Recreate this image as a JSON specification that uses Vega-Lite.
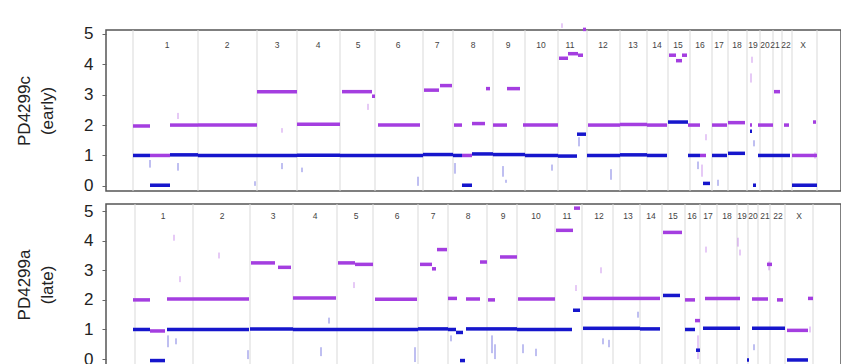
{
  "$schema": "https://vega.github.io/schema/vega-lite/v6.json",
  "padding": {"left": 14, "top": 22, "right": 0, "bottom": 0},
  "background": "white",
  "config": {
    "font": "Liberation Sans",
    "view": {"stroke": "#555", "strokeWidth": 1.5},
    "axisY": {"values": [0, 1, 2, 3, 4, 5], "labelFontSize": 17, "labelColor": "#222", "tickSize": 4, "tickColor": "#666", "domain": false, "grid": false, "titleFontSize": 17, "titleFontWeight": "normal", "titleColor": "#222", "titlePadding": 27, "titleLineHeight": 23, "labelPadding": 9}
  },
  "spacing": 13,
  "bounds": "flush",
  "datasets": {
    "early_bounds": [{"x": 27}, {"x": 92}, {"x": 151}, {"x": 191}, {"x": 234}, {"x": 269}, {"x": 317}, {"x": 347}, {"x": 387}, {"x": 419}, {"x": 452}, {"x": 481}, {"x": 514}, {"x": 541}, {"x": 562}, {"x": 584}, {"x": 606}, {"x": 622}, {"x": 641}, {"x": 654}, {"x": 667}, {"x": 676}, {"x": 686}, {"x": 711}],
    "early_labels": [{"x": 61, "chr": "1"}, {"x": 121, "chr": "2"}, {"x": 171, "chr": "3"}, {"x": 212, "chr": "4"}, {"x": 252, "chr": "5"}, {"x": 292, "chr": "6"}, {"x": 331, "chr": "7"}, {"x": 367, "chr": "8"}, {"x": 402, "chr": "9"}, {"x": 435, "chr": "10"}, {"x": 464, "chr": "11"}, {"x": 497, "chr": "12"}, {"x": 527, "chr": "13"}, {"x": 551, "chr": "14"}, {"x": 572, "chr": "15"}, {"x": 594, "chr": "16"}, {"x": 613, "chr": "17"}, {"x": 631, "chr": "18"}, {"x": 647, "chr": "19"}, {"x": 659, "chr": "20"}, {"x": 669, "chr": "21"}, {"x": 680, "chr": "22"}, {"x": 697, "chr": "X"}],
    "early_seg": [
      {"x": 27, "x2": 44, "y": 1.0, "s": "minor"}, {"x": 44, "x2": 64, "y": 0.02, "s": "minor"}, {"x": 64, "x2": 92, "y": 1.02, "s": "minor"},
      {"x": 92, "x2": 151, "y": 1.0, "s": "minor"}, {"x": 151, "x2": 191, "y": 1.0, "s": "minor"}, {"x": 191, "x2": 234, "y": 1.01, "s": "minor"},
      {"x": 234, "x2": 269, "y": 1.0, "s": "minor"}, {"x": 269, "x2": 317, "y": 1.0, "s": "minor"}, {"x": 317, "x2": 347, "y": 1.03, "s": "minor"},
      {"x": 347, "x2": 356, "y": 1.0, "s": "minor"}, {"x": 356, "x2": 366, "y": 0.02, "s": "minor"}, {"x": 366, "x2": 387, "y": 1.05, "s": "minor"},
      {"x": 387, "x2": 419, "y": 1.03, "s": "minor"}, {"x": 419, "x2": 452, "y": 1.0, "s": "minor"}, {"x": 452, "x2": 471, "y": 0.98, "s": "minor"},
      {"x": 471, "x2": 480, "y": 1.7, "s": "minor"}, {"x": 481, "x2": 514, "y": 1.0, "s": "minor"}, {"x": 514, "x2": 541, "y": 1.02, "s": "minor"},
      {"x": 541, "x2": 561, "y": 1.0, "s": "minor"}, {"x": 562, "x2": 582, "y": 2.1, "s": "minor"}, {"x": 582, "x2": 594, "y": 1.0, "s": "minor"},
      {"x": 597, "x2": 604, "y": 0.08, "s": "minor"}, {"x": 606, "x2": 621, "y": 1.0, "s": "minor"}, {"x": 622, "x2": 639, "y": 1.07, "s": "minor"},
      {"x": 644, "x2": 646, "y": 1.8, "s": "minor"}, {"x": 647, "x2": 650, "y": 0.02, "s": "minor"}, {"x": 652, "x2": 667, "y": 1.0, "s": "minor"},
      {"x": 667, "x2": 676, "y": 1.0, "s": "minor"}, {"x": 676, "x2": 684, "y": 1.0, "s": "minor"}, {"x": 686, "x2": 711, "y": 0.02, "s": "minor"},
      {"x": 27, "x2": 44, "y": 1.97, "s": "total"}, {"x": 44, "x2": 64, "y": 1.0, "s": "total"}, {"x": 64, "x2": 92, "y": 2.0, "s": "total"},
      {"x": 92, "x2": 151, "y": 2.0, "s": "total"}, {"x": 151, "x2": 191, "y": 3.1, "s": "total"}, {"x": 191, "x2": 234, "y": 2.03, "s": "total"},
      {"x": 236, "x2": 266, "y": 3.1, "s": "total"}, {"x": 266, "x2": 269, "y": 2.95, "s": "total"}, {"x": 272, "x2": 314, "y": 2.0, "s": "total"},
      {"x": 318, "x2": 333, "y": 3.15, "s": "total"}, {"x": 334, "x2": 346, "y": 3.3, "s": "total"}, {"x": 348, "x2": 356, "y": 2.0, "s": "total"},
      {"x": 356, "x2": 366, "y": 1.0, "s": "total"}, {"x": 366, "x2": 379, "y": 2.05, "s": "total"}, {"x": 380, "x2": 384, "y": 3.2, "s": "total"},
      {"x": 387, "x2": 401, "y": 2.0, "s": "total"}, {"x": 401, "x2": 414, "y": 3.2, "s": "total"}, {"x": 417, "x2": 452, "y": 2.0, "s": "total"},
      {"x": 453, "x2": 462, "y": 4.2, "s": "total"}, {"x": 462, "x2": 472, "y": 4.35, "s": "total"}, {"x": 472, "x2": 477, "y": 4.3, "s": "total"},
      {"x": 477, "x2": 480, "y": 5.15, "s": "total"}, {"x": 482, "x2": 514, "y": 2.0, "s": "total"}, {"x": 514, "x2": 541, "y": 2.02, "s": "total"},
      {"x": 541, "x2": 561, "y": 2.0, "s": "total"}, {"x": 563, "x2": 570, "y": 4.3, "s": "total"}, {"x": 570, "x2": 576, "y": 4.12, "s": "total"},
      {"x": 576, "x2": 581, "y": 4.3, "s": "total"}, {"x": 582, "x2": 594, "y": 2.0, "s": "total"}, {"x": 594, "x2": 600, "y": 1.0, "s": "total"},
      {"x": 606, "x2": 621, "y": 2.0, "s": "total"}, {"x": 622, "x2": 639, "y": 2.08, "s": "total"}, {"x": 644, "x2": 646, "y": 2.0, "s": "total"},
      {"x": 652, "x2": 667, "y": 2.0, "s": "total"}, {"x": 668, "x2": 674, "y": 3.1, "s": "total"}, {"x": 678, "x2": 683, "y": 2.0, "s": "total"},
      {"x": 686, "x2": 711, "y": 1.0, "s": "total"}, {"x": 707, "x2": 710, "y": 2.1, "s": "total"}
    ],
    "early_ticks": [
      {"x": 44, "y": 0.6, "y2": 0.85, "s": "minor"}, {"x": 72, "y": 0.5, "y2": 0.75, "s": "minor"}, {"x": 72, "y": 2.2, "y2": 2.4, "s": "total"},
      {"x": 149, "y": 0.0, "y2": 0.15, "s": "minor"}, {"x": 176, "y": 0.55, "y2": 0.75, "s": "minor"}, {"x": 176, "y": 1.75, "y2": 1.9, "s": "total"},
      {"x": 196, "y": 0.45, "y2": 0.6, "s": "minor"}, {"x": 262, "y": 2.5, "y2": 2.7, "s": "total"}, {"x": 312, "y": 0.0, "y2": 0.3, "s": "minor"},
      {"x": 349, "y": 0.4, "y2": 0.75, "s": "minor"}, {"x": 397, "y": 0.3, "y2": 0.65, "s": "minor"}, {"x": 400, "y": 0.1, "y2": 0.2, "s": "minor"},
      {"x": 446, "y": 0.5, "y2": 0.7, "s": "minor"}, {"x": 473, "y": 1.3, "y2": 1.6, "s": "minor"}, {"x": 505, "y": 0.2, "y2": 0.55, "s": "minor"},
      {"x": 592, "y": 0.55, "y2": 0.8, "s": "minor"}, {"x": 600, "y": 1.5, "y2": 1.7, "s": "total"}, {"x": 596, "y": 0.3, "y2": 0.7, "s": "total"},
      {"x": 612, "y": 0.0, "y2": 0.2, "s": "minor"}, {"x": 645, "y": 3.4, "y2": 3.7, "s": "total"}, {"x": 646, "y": 4.05, "y2": 4.25, "s": "total"},
      {"x": 648, "y": 1.3, "y2": 1.5, "s": "minor"}, {"x": 709, "y": 0.9, "y2": 1.1, "s": "total"}, {"x": 456, "y": 5.2, "y2": 5.35, "s": "total"}
    ],
    "late_bounds": [{"x": 29}, {"x": 87}, {"x": 144}, {"x": 187}, {"x": 231}, {"x": 267}, {"x": 312}, {"x": 342}, {"x": 381}, {"x": 411}, {"x": 449}, {"x": 476}, {"x": 507}, {"x": 534}, {"x": 556}, {"x": 579}, {"x": 594}, {"x": 611}, {"x": 631}, {"x": 642}, {"x": 652}, {"x": 664}, {"x": 679}, {"x": 707}],
    "late_labels": [{"x": 57, "chr": "1"}, {"x": 116, "chr": "2"}, {"x": 167, "chr": "3"}, {"x": 209, "chr": "4"}, {"x": 250, "chr": "5"}, {"x": 291, "chr": "6"}, {"x": 327, "chr": "7"}, {"x": 362, "chr": "8"}, {"x": 397, "chr": "9"}, {"x": 430, "chr": "10"}, {"x": 461, "chr": "11"}, {"x": 493, "chr": "12"}, {"x": 522, "chr": "13"}, {"x": 545, "chr": "14"}, {"x": 567, "chr": "15"}, {"x": 586, "chr": "16"}, {"x": 602, "chr": "17"}, {"x": 621, "chr": "18"}, {"x": 636, "chr": "19"}, {"x": 647, "chr": "20"}, {"x": 659, "chr": "21"}, {"x": 672, "chr": "22"}, {"x": 693, "chr": "X"}],
    "late_seg": [
      {"x": 27, "x2": 44, "y": 1.0, "s": "minor"}, {"x": 44, "x2": 59, "y": -0.05, "s": "minor"}, {"x": 61, "x2": 87, "y": 1.0, "s": "minor"},
      {"x": 87, "x2": 143, "y": 1.0, "s": "minor"}, {"x": 144, "x2": 187, "y": 1.02, "s": "minor"}, {"x": 187, "x2": 231, "y": 1.0, "s": "minor"},
      {"x": 231, "x2": 267, "y": 1.0, "s": "minor"}, {"x": 267, "x2": 312, "y": 1.0, "s": "minor"}, {"x": 312, "x2": 342, "y": 1.02, "s": "minor"},
      {"x": 342, "x2": 350, "y": 1.0, "s": "minor"}, {"x": 350, "x2": 357, "y": 0.9, "s": "minor"}, {"x": 354, "x2": 359, "y": -0.05, "s": "minor"},
      {"x": 360, "x2": 381, "y": 1.02, "s": "minor"}, {"x": 381, "x2": 411, "y": 1.02, "s": "minor"}, {"x": 411, "x2": 449, "y": 1.0, "s": "minor"},
      {"x": 449, "x2": 466, "y": 1.0, "s": "minor"}, {"x": 467, "x2": 474, "y": 1.65, "s": "minor"}, {"x": 477, "x2": 507, "y": 1.04, "s": "minor"},
      {"x": 507, "x2": 534, "y": 1.04, "s": "minor"}, {"x": 534, "x2": 554, "y": 1.02, "s": "minor"}, {"x": 557, "x2": 574, "y": 2.15, "s": "minor"},
      {"x": 579, "x2": 589, "y": 1.0, "s": "minor"}, {"x": 590, "x2": 594, "y": 0.3, "s": "minor"}, {"x": 597, "x2": 634, "y": 1.04, "s": "minor"},
      {"x": 641, "x2": 643, "y": -0.03, "s": "minor"}, {"x": 646, "x2": 679, "y": 1.04, "s": "minor"}, {"x": 681, "x2": 702, "y": -0.03, "s": "minor"},
      {"x": 27, "x2": 44, "y": 2.0, "s": "total"}, {"x": 44, "x2": 59, "y": 0.95, "s": "total"}, {"x": 61, "x2": 87, "y": 2.03, "s": "total"},
      {"x": 87, "x2": 143, "y": 2.03, "s": "total"}, {"x": 145, "x2": 169, "y": 3.25, "s": "total"}, {"x": 172, "x2": 185, "y": 3.1, "s": "total"},
      {"x": 187, "x2": 230, "y": 2.06, "s": "total"}, {"x": 232, "x2": 249, "y": 3.25, "s": "total"}, {"x": 249, "x2": 267, "y": 3.2, "s": "total"},
      {"x": 269, "x2": 311, "y": 2.02, "s": "total"}, {"x": 314, "x2": 326, "y": 3.2, "s": "total"}, {"x": 326, "x2": 330, "y": 3.05, "s": "total"},
      {"x": 331, "x2": 341, "y": 3.7, "s": "total"}, {"x": 342, "x2": 351, "y": 2.05, "s": "total"}, {"x": 360, "x2": 374, "y": 2.03, "s": "total"},
      {"x": 374, "x2": 381, "y": 3.28, "s": "total"}, {"x": 382, "x2": 389, "y": 2.0, "s": "total"}, {"x": 394, "x2": 411, "y": 3.45, "s": "total"},
      {"x": 412, "x2": 449, "y": 2.03, "s": "total"}, {"x": 450, "x2": 467, "y": 4.35, "s": "total"}, {"x": 468, "x2": 474, "y": 5.1, "s": "total"},
      {"x": 477, "x2": 507, "y": 2.05, "s": "total"}, {"x": 507, "x2": 534, "y": 2.05, "s": "total"}, {"x": 534, "x2": 554, "y": 2.05, "s": "total"},
      {"x": 557, "x2": 576, "y": 4.28, "s": "total"}, {"x": 579, "x2": 589, "y": 2.0, "s": "total"}, {"x": 589, "x2": 594, "y": 1.3, "s": "total"},
      {"x": 599, "x2": 634, "y": 2.05, "s": "total"}, {"x": 646, "x2": 662, "y": 2.03, "s": "total"}, {"x": 661, "x2": 666, "y": 3.2, "s": "total"},
      {"x": 671, "x2": 677, "y": 2.0, "s": "total"}, {"x": 681, "x2": 702, "y": 0.97, "s": "total"}, {"x": 702, "x2": 707, "y": 2.05, "s": "total"}
    ],
    "late_ticks": [
      {"x": 62, "y": 0.4, "y2": 0.8, "s": "minor"}, {"x": 70, "y": 0.5, "y2": 0.7, "s": "minor"}, {"x": 74, "y": 2.6, "y2": 2.8, "s": "total"},
      {"x": 68, "y": 4.0, "y2": 4.2, "s": "total"}, {"x": 113, "y": 3.4, "y2": 3.6, "s": "total"}, {"x": 142, "y": 0.0, "y2": 0.3, "s": "minor"},
      {"x": 215, "y": 0.1, "y2": 0.4, "s": "minor"}, {"x": 223, "y": 1.2, "y2": 1.4, "s": "minor"}, {"x": 248, "y": 2.4, "y2": 2.6, "s": "total"},
      {"x": 309, "y": -0.1, "y2": 0.4, "s": "minor"}, {"x": 345, "y": 0.6, "y2": 0.8, "s": "minor"}, {"x": 386, "y": 0.2, "y2": 0.8, "s": "minor"},
      {"x": 389, "y": 0.0, "y2": 0.5, "s": "minor"}, {"x": 417, "y": 0.2, "y2": 0.5, "s": "minor"}, {"x": 430, "y": 0.1, "y2": 0.35, "s": "minor"},
      {"x": 470, "y": 2.3, "y2": 2.5, "s": "total"}, {"x": 495, "y": 2.9, "y2": 3.1, "s": "total"}, {"x": 497, "y": 0.5, "y2": 0.7, "s": "minor"},
      {"x": 503, "y": 0.4, "y2": 0.65, "s": "minor"}, {"x": 532, "y": 1.4, "y2": 1.6, "s": "minor"}, {"x": 592, "y": 0.0, "y2": 0.8, "s": "total"},
      {"x": 600, "y": 3.6, "y2": 3.8, "s": "total"}, {"x": 632, "y": 3.8, "y2": 4.1, "s": "total"}, {"x": 634, "y": 3.5, "y2": 3.7, "s": "total"},
      {"x": 663, "y": 3.0, "y2": 3.3, "s": "total"}, {"x": 704, "y": 0.9, "y2": 1.1, "s": "total"}, {"x": 648, "y": 0.3, "y2": 0.5, "s": "minor"}
    ]
  },
  "vconcat": [
    {
      "width": 735,
      "height": 161,
      "layer": [
        {"data": {"name": "early_bounds"}, "mark": {"type": "rule", "color": "#d9d9d9", "strokeWidth": 1}, "encoding": {"x": {"field": "x", "type": "quantitative", "scale": {"domain": [0, 735], "nice": false, "zero": false}, "axis": null}}},
        {"data": {"name": "early_ticks"}, "mark": {"type": "rule", "strokeWidth": 1, "opacity": 0.55, "clip": false}, "encoding": {"x": {"field": "x", "type": "quantitative"}, "y": {"field": "y", "type": "quantitative"}, "y2": {"field": "y2"}, "color": {"field": "s", "type": "nominal", "legend": null, "scale": {"domain": ["total", "minor"], "range": ["#a43ee0", "#1616cc"]}}}},
        {"data": {"name": "early_seg"}, "mark": {"type": "rule", "strokeWidth": 3.5, "strokeCap": "butt", "clip": false}, "encoding": {"x": {"field": "x", "type": "quantitative"}, "x2": {"field": "x2"}, "y": {"field": "y", "type": "quantitative", "scale": {"domain": [-0.17, 5.13], "nice": false, "zero": false}, "axis": {"title": ["PD4299c", "(early)"]}}, "color": {"field": "s", "type": "nominal", "legend": null}}},
        {"data": {"name": "early_labels"}, "mark": {"type": "text", "fontSize": 8.5, "color": "#444", "baseline": "middle", "align": "center"}, "encoding": {"x": {"field": "x", "type": "quantitative"}, "y": {"datum": 4.64}, "text": {"field": "chr"}}}
      ]
    },
    {
      "width": 735,
      "height": 161,
      "layer": [
        {"data": {"name": "late_bounds"}, "mark": {"type": "rule", "color": "#d9d9d9", "strokeWidth": 1}, "encoding": {"x": {"field": "x", "type": "quantitative", "scale": {"domain": [0, 735], "nice": false, "zero": false}, "axis": null}}},
        {"data": {"name": "late_ticks"}, "mark": {"type": "rule", "strokeWidth": 1, "opacity": 0.55, "clip": false}, "encoding": {"x": {"field": "x", "type": "quantitative"}, "y": {"field": "y", "type": "quantitative"}, "y2": {"field": "y2"}, "color": {"field": "s", "type": "nominal", "legend": null, "scale": {"domain": ["total", "minor"], "range": ["#a43ee0", "#1616cc"]}}}},
        {"data": {"name": "late_seg"}, "mark": {"type": "rule", "strokeWidth": 3.5, "strokeCap": "butt", "clip": false}, "encoding": {"x": {"field": "x", "type": "quantitative"}, "x2": {"field": "x2"}, "y": {"field": "y", "type": "quantitative", "scale": {"domain": [-0.2, 5.24], "nice": false, "zero": false}, "axis": {"title": ["PD4299a", "(late)"]}}, "color": {"field": "s", "type": "nominal", "legend": null}}},
        {"data": {"name": "late_labels"}, "mark": {"type": "text", "fontSize": 8.5, "color": "#444", "baseline": "middle", "align": "center"}, "encoding": {"x": {"field": "x", "type": "quantitative"}, "y": {"datum": 4.82}, "text": {"field": "chr"}}}
      ]
    }
  ]
}
